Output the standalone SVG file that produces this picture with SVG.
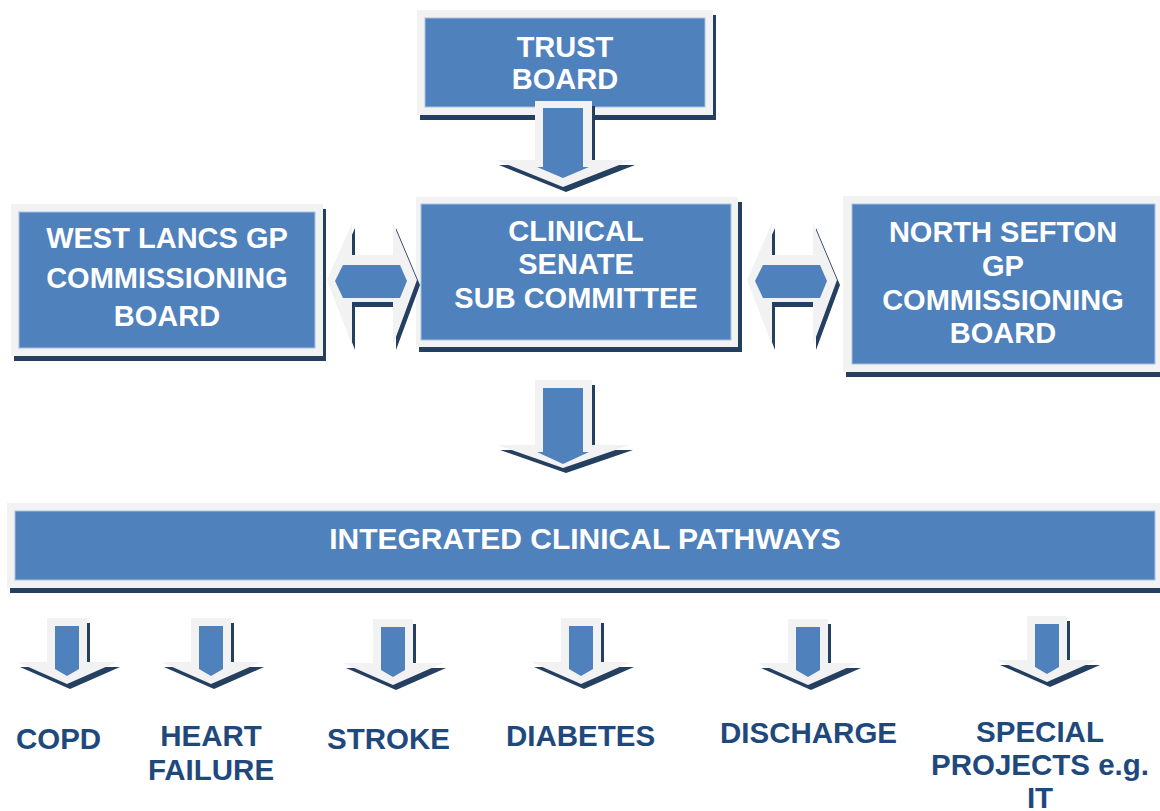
<svg xmlns="http://www.w3.org/2000/svg" xmlns:xlink="http://www.w3.org/1999/xlink" width="1160" height="811" viewBox="0 0 1160 811">
  <style>
    .frame { fill: #F2F2F2; }
    .shadow { fill: #243F60; }
    .fill { fill: #4F81BD; stroke: #A9C0DF; stroke-width: 1; }
    .arrowfill { fill: #4F81BD; }
    .label { font-family: "Liberation Sans", Arial, sans-serif; font-weight: bold; font-size: 29px; fill: #FFFFFF; text-anchor: middle; }
    .wide { font-size: 30px; }
    .item { font-family: "Liberation Sans", Arial, sans-serif; font-weight: bold; font-size: 29.5px; fill: #1F497D; text-anchor: middle; }
  </style>
  <defs>
    <!-- small downward block arrow, centred on x=0, top at y=0 -->
    <g id="small-arrow">
      <path class="shadow" transform="translate(3,5)" d="M-20,0 H20 V44 H50 L0,66 L-50,44 H-20 Z"/>
      <path class="frame" d="M-20,0 H20 V44 H50 L0,66 L-50,44 H-20 Z"/>
      <path class="arrowfill" d="M-12,8 H12 V51 L0,58 L-12,51 Z"/>
    </g>
    <!-- horizontal two-way block arrow, left tip at x=0, axis at y=0 -->
    <g id="two-way">
      <path class="shadow" transform="translate(3,5)" d="M0,0 L25,-57 V-25 H66 V-57 L90,0 L66,65 V22 H25 V65 Z"/>
      <path class="frame" d="M0,0 L25,-57 V-25 H66 V-57 L90,0 L66,65 V22 H25 V65 Z"/>
      <path class="arrowfill" d="M8,1 L16,-15 H73 L80,1 L73,18 H16 Z"/>
    </g>
  </defs>

  <rect width="1160" height="811" fill="#FFFFFF"/>

  <g id="trust-board">
    <rect class="shadow" x="420" y="15" width="296" height="105"/>
    <rect class="frame" x="417" y="10" width="296" height="105"/>
    <rect class="fill" x="425" y="18" width="280" height="89"/>
    <text class="label" x="565" y="57">TRUST</text>
    <text class="label" x="565" y="89">BOARD</text>
  </g>

  <g id="west-lancs">
    <rect class="shadow" x="14" y="209" width="312" height="152"/>
    <rect class="frame" x="11" y="204" width="312" height="152"/>
    <rect class="fill" x="19" y="212" width="296" height="136"/>
    <text class="label" x="167" y="248">WEST LANCS GP</text>
    <text class="label" x="167" y="288">COMMISSIONING</text>
    <text class="label" x="167" y="326">BOARD</text>
  </g>

  <g id="clinical-senate">
    <rect class="shadow" x="419" y="202" width="323" height="150"/>
    <rect class="frame" x="416" y="197" width="322" height="150"/>
    <rect class="fill" x="421" y="204" width="310" height="136"/>
    <text class="label" x="576" y="241">CLINICAL</text>
    <text class="label" x="576" y="274">SENATE</text>
    <text class="label" x="576" y="308">SUB COMMITTEE</text>
  </g>

  <g id="north-sefton">
    <rect class="shadow" x="846" y="201" width="320" height="176"/>
    <rect class="frame" x="843" y="196" width="320" height="176"/>
    <rect class="fill" x="852" y="204" width="303" height="160"/>
    <text class="label" x="1003" y="242">NORTH SEFTON</text>
    <text class="label" x="1003" y="276">GP</text>
    <text class="label" x="1003" y="310">COMMISSIONING</text>
    <text class="label" x="1003" y="343">BOARD</text>
  </g>

  <g id="integrated-pathways">
    <rect class="shadow" x="10" y="508" width="1156" height="85"/>
    <rect class="frame" x="7" y="503" width="1156" height="85"/>
    <rect class="fill" x="15" y="511" width="1140" height="69"/>
    <text class="label wide" x="585" y="549">INTEGRATED CLINICAL PATHWAYS</text>
  </g>

  <g id="connectors">
    <!-- trust board down to senate -->
    <path class="shadow" transform="translate(3,5)" d="M535,101 H592 V160 H632 L563,187 L496,160 H535 Z"/>
    <path class="frame" d="M535,101 H592 V160 H632 L563,187 L496,160 H535 Z"/>
    <path class="arrowfill" d="M543,108 H583 V167 H589 L563,178 L537,167 H543 Z"/>

    <!-- senate down to pathways -->
    <path class="shadow" transform="translate(3,5)" d="M535,380 H592 V445 H630 L563,468 L497,445 H535 Z"/>
    <path class="frame" d="M535,380 H592 V445 H630 L563,468 L497,445 H535 Z"/>
    <path class="arrowfill" d="M543,388 H583 V452 H589 L563,464 L537,452 H543 Z"/>

    <!-- two-way links either side of the senate -->
    <use xlink:href="#two-way" href="#two-way" x="327" y="280"/>
    <use xlink:href="#two-way" href="#two-way" x="747" y="280"/>

    <!-- pathway arrows -->
    <use xlink:href="#small-arrow" href="#small-arrow" x="67" y="618"/>
    <use xlink:href="#small-arrow" href="#small-arrow" x="211" y="618"/>
    <use xlink:href="#small-arrow" href="#small-arrow" x="393" y="619"/>
    <use xlink:href="#small-arrow" href="#small-arrow" x="581" y="618"/>
    <use xlink:href="#small-arrow" href="#small-arrow" x="808" y="619"/>
    <use xlink:href="#small-arrow" href="#small-arrow" x="1047" y="616"/>
  </g>

  <g id="copd"><text class="item" x="58.5" y="749">COPD</text></g>
  <g id="heart-failure">
    <text class="item" x="211" y="746">HEART</text>
    <text class="item" x="211" y="780">FAILURE</text>
  </g>
  <g id="stroke"><text class="item" x="388.5" y="749">STROKE</text></g>
  <g id="diabetes"><text class="item" x="580.5" y="746">DIABETES</text></g>
  <g id="discharge"><text class="item" x="808.5" y="743">DISCHARGE</text></g>
  <g id="special-projects">
    <text class="item" x="1040" y="742">SPECIAL</text>
    <text class="item" x="1040" y="775">PROJECTS e.g.</text>
    <text class="item" x="1040" y="808">IT</text>
  </g>
</svg>
